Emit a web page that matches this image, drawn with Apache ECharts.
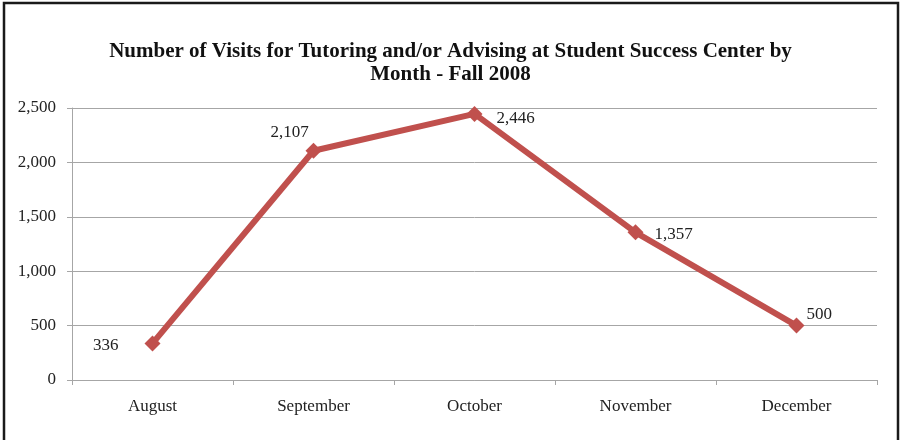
<!DOCTYPE html>
<html>
<head>
<meta charset="utf-8">
<script src="https://cdn.jsdelivr.net/npm/echarts@6/dist/echarts.min.js"></script>
<style>
  html, body { margin: 0; padding: 0; background: #fff; }
  #chart { width: 901px; height: 440px; }
</style>
</head>
<body>
<div id="chart"></div>
<script>
const months = ['August', 'September', 'October', 'November', 'December']
const visits = [336, 2107, 2446, 1357, 500]
// where each value label sits around its point
const labelPlace = [
  { position: 'left', distance: 26, offset: [0, 2] },
  { position: 'top', distance: 2, offset: [-24, 0] },
  { position: 'right', distance: 14, offset: [0, 5] },
  { position: 'right', distance: 11, offset: [0, 2] },
  { position: 'right', distance: 2, offset: [0, -11] }
]

const serif = '"Liberation Serif", "DejaVu Serif", serif'
const red = '#c0504d'

const chart = echarts.init(document.getElementById('chart'), null, { renderer: 'canvas' })

const fmt = v => v.toLocaleString('en-US')

chart.setOption({
  backgroundColor: '#fff',
  animation: false,
  title: {
    text: 'Number of Visits for Tutoring and/or Advising at Student Success Center by\nMonth - Fall 2008',
    left: 'center',
    top: 35,
    textStyle: {
      fontFamily: serif,
      fontWeight: 'bold',
      fontSize: 21,
      lineHeight: 23,
      color: '#111'
    }
  },
  graphic: [{
    type: 'polyline',
    shape: { points: [[4, 440], [4, 3], [898, 3], [898, 440]] },
    style: { stroke: '#1a1a1a', lineWidth: 2.5, fill: null }
  }],
  grid: { left: 72, right: 24, top: 108, bottom: 60 },
  xAxis: {
    type: 'category',
    data: months,
    boundaryGap: true,
    axisLine: { lineStyle: { color: '#a6a6a6', width: 1 } },
    axisTick: { show: true, length: 5, lineStyle: { color: '#a6a6a6' } },
    axisLabel: { fontFamily: serif, fontSize: 17, color: '#222', margin: 18 }
  },
  yAxis: {
    type: 'value',
    min: 0,
    max: 2500,
    interval: 500,
    axisLine: { show: true, lineStyle: { color: '#a6a6a6', width: 1 } },
    axisTick: { show: true, length: 5, lineStyle: { color: '#a6a6a6' } },
    axisLabel: { fontFamily: serif, fontSize: 17, color: '#222', margin: 16, formatter: fmt },
    splitLine: { lineStyle: { color: '#a6a6a6', width: 1 } }
  },
  series: [{
    type: 'line',
    data: visits.map((v, i) => ({ value: v, label: labelPlace[i] })),
    symbol: 'diamond',
    symbolSize: 16,
    lineStyle: { color: red, width: 6 },
    itemStyle: { color: red },
    label: {
      show: true,
      fontFamily: serif,
      fontSize: 17,
      color: '#222',
      formatter: p => fmt(p.value)
    }
  }]
})
</script>
</body>
</html>
